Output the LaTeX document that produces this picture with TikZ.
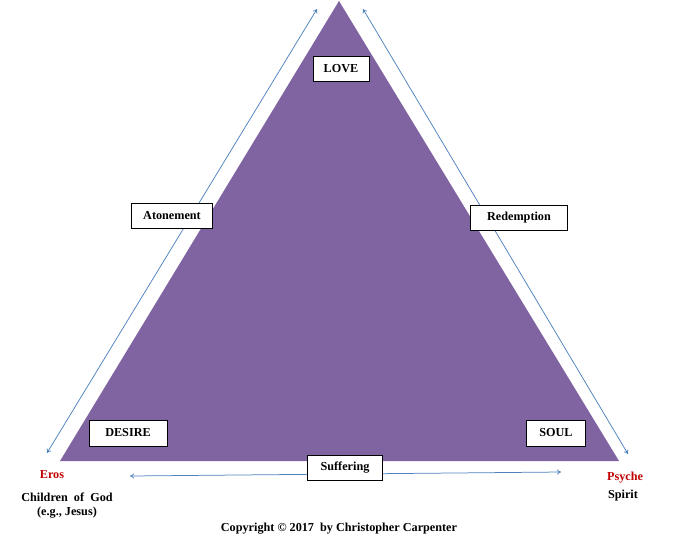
\documentclass[tikz,border=0pt]{standalone}
\usepackage{fontspec}
\setmainfont{Liberation Serif}
\usetikzlibrary{arrows.meta}
\definecolor{trianglepurple}{HTML}{8064A2}
\definecolor{arrowblue}{HTML}{4F81BD}
\definecolor{namered}{HTML}{C00000}
\begin{document}
\begin{tikzpicture}[x=1pt, y=-1pt, font=\fontsize{12.2}{14}\selectfont\bfseries]
      \tikzset{
	  corner/.style={rectangle, draw=black, fill=white, line width=0.8pt, minimum height=25pt, inner sep=2pt, text centered},
	  side/.style={draw=arrowblue, line width=0.75pt, {To[length=4pt,width=5pt]}-{To[length=4pt,width=5pt]}},
	  mylabel/.style={text centered, inner sep=0pt}
      }
      \useasboundingbox (0,0) rectangle (687,544);

      \def\trianglepath{(339,1) -- (619,461) -- (60,461) -- cycle}
      \fill[trianglepurple] \trianglepath;

      \coordinate (atonetop) at (317,9);
      \coordinate (atonebottom) at (47,453);
      \coordinate (redeemtop) at (363,9);
      \coordinate (redeembottom) at (628,454);
      \coordinate (sufferleft) at (130,476);
      \coordinate (sufferright) at (561,472);

      \draw[side] (atonebottom) -- (atonetop);
      \draw[side] (redeembottom) -- (redeemtop);
      \draw[side] (sufferleft) -- (sufferright);

      \node[corner, minimum width=56pt] (love) at (341,69) {LOVE};
      \node[corner, minimum width=81pt] (atonement) at (172,216) {Atonement};
      \node[corner, minimum width=97pt] (redemption) at (519,218) {Redemption};
      \node[corner, minimum width=78pt, minimum height=26pt] (desire) at (128,433) {DESIRE};
      \node[corner, minimum width=59pt, minimum height=26pt] (soul) at (556,433) {SOUL};
      \node[corner, minimum width=75pt] (suffering) at (345,468) {Suffering};

      \node[mylabel, text=namered] (eros) at (52,475) {Eros};
      \node[mylabel] (children) at (67,497) {Children\ \ of\ \ God};
      \node[mylabel] (jesus) at (67,513) {(e.g., Jesus)};
      \node[mylabel, text=namered] (psyche) at (625,478) {Psyche};
      \node[mylabel] (spirit) at (623,496) {Spirit};
      \node[mylabel] (copyright) at (339,529) {Copyright \textcopyright{} 2017\ \ by Christopher Carpenter};
    \end{tikzpicture}
\end{document}
